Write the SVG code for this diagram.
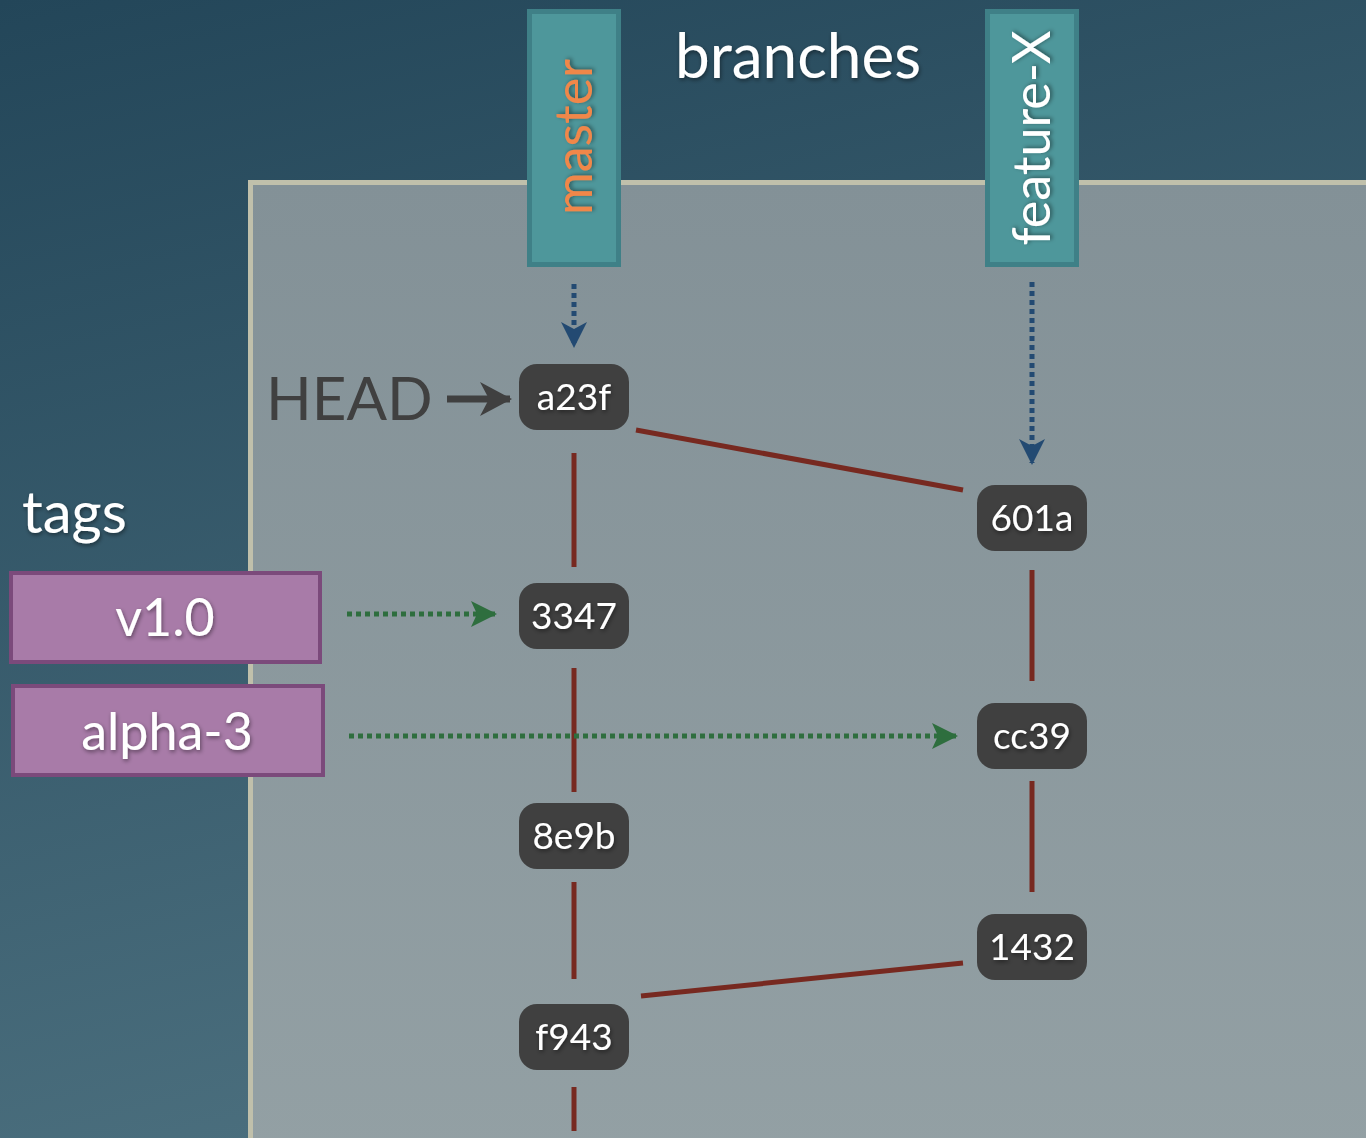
<svg xmlns="http://www.w3.org/2000/svg" width="1366" height="1138" viewBox="0 0 1366 1138">
<defs>
<linearGradient id="bg" x1="0" y1="0" x2="0.3" y2="1">
<stop offset="0" stop-color="#234659"/>
<stop offset="1" stop-color="#4b6f7e"/>
</linearGradient>
<linearGradient id="panel" x1="0" y1="0" x2="0" y2="1">
<stop offset="0" stop-color="#839197"/>
<stop offset="1" stop-color="#93a0a4"/>
</linearGradient>
<filter id="sh" x="-20%" y="-20%" width="140%" height="140%">
<feDropShadow dx="1" dy="2" stdDeviation="2" flood-color="#000" flood-opacity="0.45"/>
</filter>
<marker id="ab" viewBox="0 0 26 26" refX="24" refY="13" markerWidth="26" markerHeight="26" markerUnits="userSpaceOnUse" orient="auto">
<path d="M0,0 L26,13 L0,26 L7,13 Z" fill="#234a72"/>
</marker>
<marker id="ag" viewBox="0 0 26 26" refX="24" refY="13" markerWidth="26" markerHeight="26" markerUnits="userSpaceOnUse" orient="auto">
<path d="M0,0 L26,13 L0,26 L6,13 Z" fill="#2e6e3e"/>
</marker>
<marker id="ah" viewBox="0 0 32 34" refX="30" refY="17" markerWidth="32" markerHeight="34" markerUnits="userSpaceOnUse" orient="auto">
<path d="M0,0 L32,17 L0,34 L9,17 Z" fill="#404040"/>
</marker>
<style>
text{font-family:Lato,"Open Sans","Liberation Sans",sans-serif}
.commit rect{fill:#404040}
.commit text{fill:#fff;font-size:37px;text-anchor:middle}
.branch rect{fill:#4e979b;stroke:#3f8087;stroke-width:5}
.tag rect{fill:#a87ba8;stroke:#7b4a7b;stroke-width:4}
.tag text{fill:#fff;font-size:52px;text-anchor:middle}
.edge{stroke:#772920;stroke-width:5;fill:none}
.blue{stroke:#234a72;stroke-width:5;stroke-dasharray:5 4;fill:none}
.green{stroke:#2e6e3e;stroke-width:5;stroke-dasharray:5 4;fill:none}
.title{fill:#fff}
</style>
</defs>
<rect x="0" y="0" width="1366" height="1138" fill="url(#bg)"/>
<rect x="250.5" y="182.5" width="1120" height="970" fill="url(#panel)" stroke="#c0c0ab" stroke-width="5"/>

<g id="connectors">
<line class="edge" x1="574" y1="453" x2="574" y2="567"/>
<line class="edge" x1="574" y1="668" x2="574" y2="792"/>
<line class="edge" x1="574" y1="882" x2="574" y2="979"/>
<line class="edge" x1="574" y1="1087" x2="574" y2="1131"/>
<line class="edge" x1="1032" y1="570" x2="1032" y2="681"/>
<line class="edge" x1="1032" y1="781" x2="1032" y2="892"/>
<line class="edge" x1="636" y1="430" x2="963" y2="490"/>
<line class="edge" x1="963" y1="963" x2="641" y2="996"/>
<line class="blue" x1="574" y1="284" x2="574" y2="346" marker-end="url(#ab)"/>
<line class="blue" x1="1032" y1="282" x2="1032" y2="463" marker-end="url(#ab)"/>
<line class="green" x1="347" y1="614" x2="495" y2="614" marker-end="url(#ag)"/>
<line class="green" x1="349" y1="736" x2="956" y2="736" marker-end="url(#ag)"/>
<line x1="447" y1="399" x2="510" y2="399" stroke="#404040" stroke-width="7" marker-end="url(#ah)"/>
</g>

<g id="label-branches"><text class="title" x="675" y="78" font-size="62" filter="url(#sh)">branches</text></g>
<g id="label-tags"><text class="title" x="22" y="533" font-size="58" filter="url(#sh)">tags</text></g>
<g id="label-head"><text x="266" y="420" font-size="60" fill="#404040">HEAD</text></g>

<g id="branch-master" class="branch">
<rect x="529.5" y="11.5" width="89" height="253"/>
<text transform="translate(592,137) rotate(-90)" text-anchor="middle" font-size="52" fill="#f0874a" filter="url(#sh)">master</text>
</g>
<g id="branch-feature-X" class="branch">
<rect x="987.5" y="11.5" width="89" height="253"/>
<text transform="translate(1050,138) rotate(-90)" text-anchor="middle" font-size="52" fill="#fff" filter="url(#sh)">feature-X</text>
</g>

<g id="tag-v1.0" class="tag">
<rect x="11" y="573" width="309" height="89"/>
<text x="165" y="636" filter="url(#sh)">v1.0</text>
</g>
<g id="tag-alpha-3" class="tag">
<rect x="13" y="686" width="310" height="89"/>
<text x="167" y="750" filter="url(#sh)">alpha-3</text>
</g>

<g id="commit-a23f" class="commit"><rect x="519" y="364" width="110" height="66" rx="18"/><text x="574" y="410" filter="url(#sh)">a23f</text></g>
<g id="commit-3347" class="commit"><rect x="519" y="583" width="110" height="66" rx="18"/><text x="574" y="629" filter="url(#sh)">3347</text></g>
<g id="commit-8e9b" class="commit"><rect x="519" y="803" width="110" height="66" rx="18"/><text x="574" y="849" filter="url(#sh)">8e9b</text></g>
<g id="commit-f943" class="commit"><rect x="519" y="1004" width="110" height="66" rx="18"/><text x="574" y="1050" filter="url(#sh)">f943</text></g>
<g id="commit-601a" class="commit"><rect x="977" y="485" width="110" height="66" rx="18"/><text x="1032" y="531" filter="url(#sh)">601a</text></g>
<g id="commit-cc39" class="commit"><rect x="977" y="703" width="110" height="66" rx="18"/><text x="1032" y="749" filter="url(#sh)">cc39</text></g>
<g id="commit-1432" class="commit"><rect x="977" y="914" width="110" height="66" rx="18"/><text x="1032" y="960" filter="url(#sh)">1432</text></g>
</svg>
